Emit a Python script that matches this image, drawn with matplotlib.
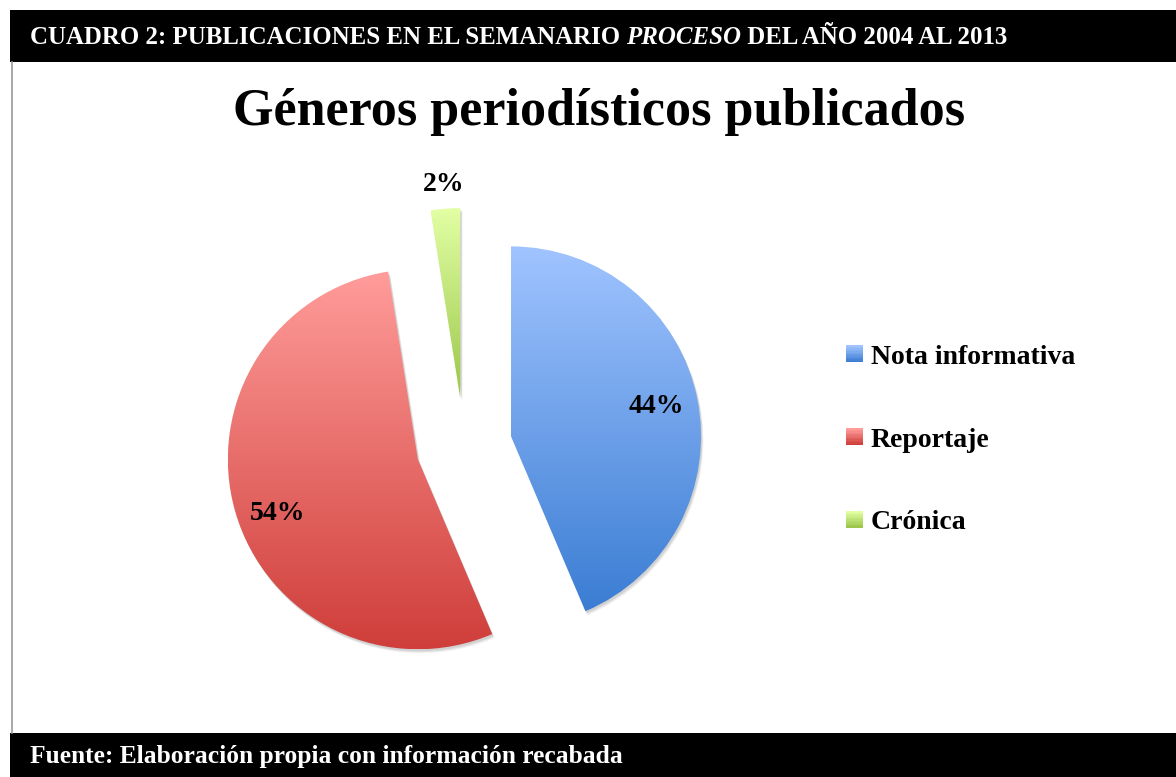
import matplotlib
matplotlib.use("Agg")
import matplotlib.pyplot as plt
import numpy as np
from matplotlib.patches import Rectangle, Wedge
from matplotlib.legend_handler import HandlerBase
from matplotlib.colors import to_rgb

categories = ["Nota informativa", "Reportaje", "Crónica"]
shares = [43.6, 53.9, 2.5]
pct_labels = ["44%", "54%", "2%"]
top_colors = ["#a0c4ff", "#ff9c9a", "#e2ffa4"]
bottom_colors = ["#3b7dd3", "#cf3e3a", "#9bc64a"]

W, H = 1176, 777
SERIF = ["Liberation Serif", "DejaVu Serif"]


def gradient(top, bottom, n=256):
    t = np.linspace(0, 1, n)[:, None]
    a = np.array(to_rgb(bottom))
    b = np.array(to_rgb(top))
    return (a + (b - a) * t)[:, None, :]


class GradientHandler(HandlerBase):
    def __init__(self, top, bottom):
        super().__init__()
        self.top = top
        self.bottom = bottom

    def create_artists(self, legend, orig_handle, xdescent, ydescent, width, height, fontsize, trans):
        arts = []
        n = 12
        side = min(width, height)
        x0 = -xdescent + (width - side) / 2
        y0 = -ydescent + (height - side) / 2
        cols = gradient(self.top, self.bottom, n)[:, 0, :]
        for i in range(n):
            r = Rectangle((x0, y0 + side * i / n), side, side / n + 0.3,
                          facecolor=cols[i], edgecolor="none", transform=trans)
            arts.append(r)
        return arts


def fit_width(t, target, renderer):
    # scale font size so the text spans target pixels
    w = t.get_window_extent(renderer).width
    t.set_fontsize(t.get_fontsize() * target / w)
    return t


fig = plt.figure(figsize=(W / 100, H / 100), dpi=100)
ax = fig.add_axes([0, 0, 1, 1])
renderer = fig.canvas.get_renderer()

radius = 190
center = (464, H - 446)
wedges, _ = ax.pie(shares, radius=radius, center=center, startangle=90,
                   counterclock=False, explode=[48, 48, 48],
                   wedgeprops=dict(linewidth=0))

for w, top, bottom in zip(wedges, top_colors, bottom_colors):
    # soft shadow
    for k, a in [(4, 0.05), (3, 0.06), (2, 0.08)]:
        s = Wedge((w.center[0] + k * 0.6, w.center[1] - k), w.r, w.theta1, w.theta2,
                  facecolor="black", alpha=a, edgecolor="none", zorder=0.5)
        ax.add_patch(s)
    w.set_facecolor("none")
    w.set_zorder(2)
    bb = w.get_path().get_extents()
    im = ax.imshow(gradient(top, bottom), extent=[bb.x0, bb.x1, bb.y0, bb.y1],
                   origin="lower", aspect="auto", zorder=1.5, interpolation="bilinear")
    im.set_clip_path(w)

dist = [0.78, 0.79, 1.13]
shift = [0, 5, 0]  # small angular nudge of label, degrees
for w, lab, d, sh in zip(wedges, pct_labels, dist, shift):
    tm = np.deg2rad((w.theta1 + w.theta2) / 2 + sh)
    ax.text(w.center[0] + d * w.r * np.cos(tm), w.center[1] + d * w.r * np.sin(tm), lab,
            ha="center", va="center", fontsize=20, fontweight="bold", family=SERIF, zorder=3)

ax.set_xlim(0, W)
ax.set_ylim(0, H)
ax.set_aspect("auto")
ax.axis("off")

# legend
handles = [Rectangle((0, 0), 1, 1) for _ in categories]
hmap = {h: GradientHandler(t, b) for h, t, b in zip(handles, top_colors, bottom_colors)}
leg = ax.legend(handles, categories, handler_map=hmap, loc="center left",
                bbox_to_anchor=(832 / W, 1 - 440 / H), frameon=False,
                prop=dict(family=SERIF, weight="bold", size=20),
                handlelength=0.6, handleheight=0.6, handletextpad=0.3,
                labelspacing=2.08, borderpad=0)

# frame: header, footer, left border
fig.patches.append(Rectangle((10 / W, 1 - 62 / H), 1, 52 / H, transform=fig.transFigure,
                             facecolor="black", edgecolor="none"))
fig.patches.append(Rectangle((10 / W, 0), 1, 44 / H, transform=fig.transFigure,
                             facecolor="black", edgecolor="none"))
fig.lines.append(plt.Line2D([12 / W, 12 / W], [44 / H, 1 - 62 / H], transform=fig.transFigure,
                            color="#9a9a9a", linewidth=1.2))

# header text with italic PROCESO
parts = [("CUADRO 2: PUBLICACIONES EN EL SEMANARIO ", "normal"),
         ("PROCESO", "italic"),
         (" DEL AÑO 2004 AL 2013", "normal")]
probe = [fig.text(0, 0, txt, fontsize=20, fontweight="bold", fontstyle=st, family=SERIF)
         for txt, st in parts]
total = sum(p.get_window_extent(renderer).width for p in probe)
hsize = 20 * 975 / total
for p in probe:
    p.remove()
x = 30
for txt, st in parts:
    t = fig.text(x / W, 1 - 38 / H, txt, color="white", fontsize=hsize, fontweight="bold",
                 fontstyle=st, family=SERIF, va="center", ha="left")
    x += t.get_window_extent(renderer).width

foot = fig.text(30 / W, 1 - 756 / H, "Fuente: Elaboración propia con información recabada",
                color="white", fontsize=18, fontweight="bold", family=SERIF, va="center", ha="left")
fit_width(foot, 592, renderer)

title = fig.text(599 / W, 1 - 112 / H, "Géneros periodísticos publicados", fontsize=40,
                 fontweight="bold", family=SERIF, ha="center", va="center")
fit_width(title, 732, renderer)

fig.savefig("out.png", dpi=100)
